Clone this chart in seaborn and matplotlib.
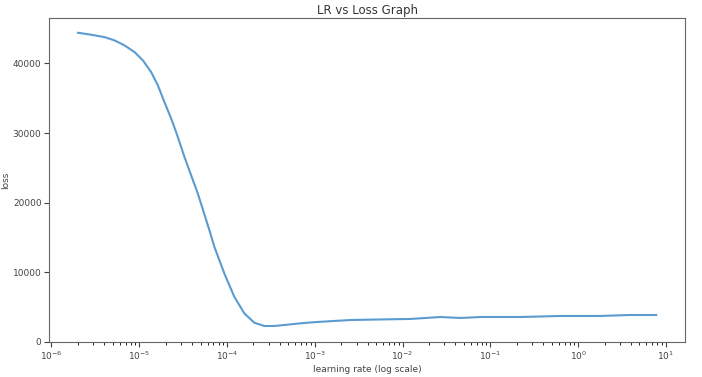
import numpy as np
import pandas as pd
import seaborn as sns
import matplotlib.pyplot as plt

# learning rate (log10) and loss
log_lr = [-5.697, -5.545, -5.394, -5.281, -5.167, -5.053, -4.958, -4.864, -4.788,
          -4.713, -4.636, -4.580, -4.485, -4.333, -4.201, -4.144, -4.031, -3.917,
          -3.803, -3.690, -3.576, -3.462, -3.310, -3.159, -2.969, -2.59, -2.25,
          -1.91, -1.57, -1.34, -1.11, -0.66, -0.20, 0.25, 0.59, 0.89]
loss = [44400, 44110, 43770, 43300, 42580, 41620, 40430, 38750, 36850,
        34450, 32070, 30150, 26570, 21320, 16060, 13660, 9850, 6490,
        4110, 2770, 2290, 2290, 2480, 2680, 2870, 3150, 3230,
        3300, 3580, 3440, 3580, 3580, 3730, 3730, 3870, 3870]

df = pd.DataFrame({"lr": np.power(10.0, log_lr), "loss": loss})

fig = plt.figure(figsize=(7.02, 3.77), dpi=100)
ax = fig.add_axes([0.07, 0.093, 0.906, 0.859])

sns.lineplot(data=df, x="lr", y="loss", ax=ax, color="#5a9bd0", linewidth=1.5)
ax.set_xscale("log")
ax.set_ylim(bottom=0)

ax.set_title("LR vs Loss Graph", fontsize=8.5, color="#333333", pad=3)
ax.set_xlabel("learning rate (log scale)", fontsize=6.5, color="#444444", labelpad=2)
ax.set_ylabel("loss", fontsize=6.5, color="#444444", labelpad=2)
ax.tick_params(labelsize=6.5, colors="#444444", pad=2)
for s in ax.spines.values():
    s.set_color("#666666")

fig.savefig("out.png", dpi=100)
